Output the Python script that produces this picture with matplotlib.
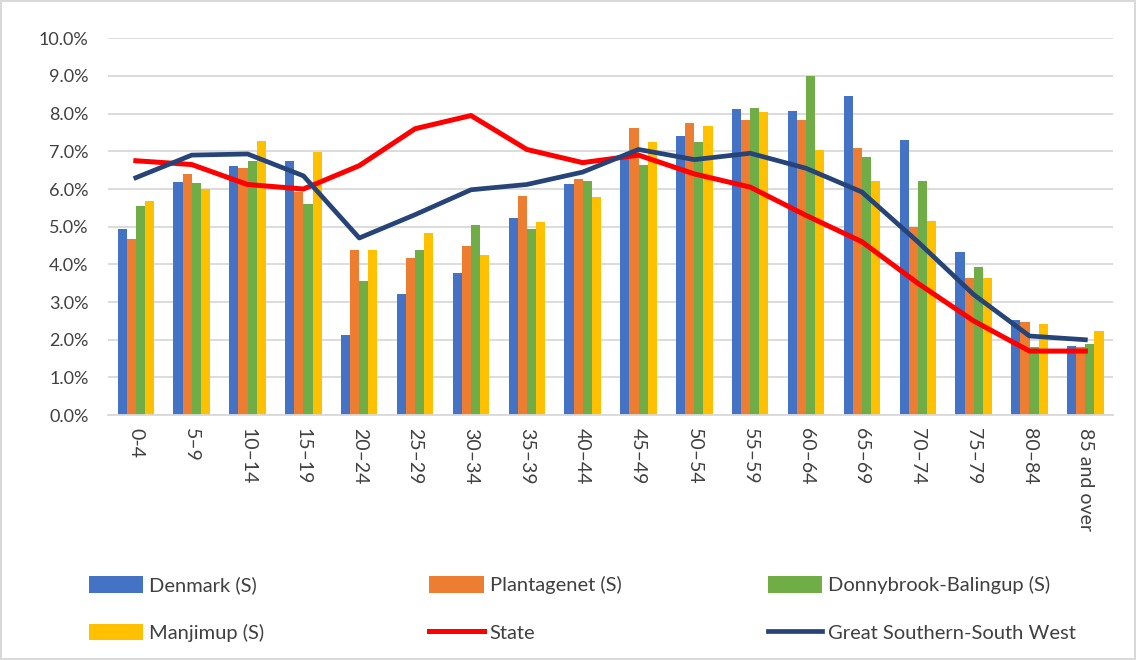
import matplotlib
matplotlib.use("Agg")
import matplotlib.pyplot as plt
import numpy as np
from matplotlib.ticker import PercentFormatter

plt.rcParams['font.family'] = ['Lato', 'DejaVu Sans']

ages = ['0-4', '5–9', '10–14', '15–19', '20–24', '25–29', '30–34', '35–39', '40–44',
        '45–49', '50–54', '55–59', '60–64', '65–69', '70–74', '75–79', '80–84', '85 and over']

denmark = [4.93, 6.18, 6.60, 6.75, 2.12, 3.22, 3.78, 5.22, 6.13,
           6.90, 7.42, 8.13, 8.07, 8.47, 7.30, 4.33, 2.52, 1.84]
plantagenet = [4.68, 6.40, 6.55, 5.92, 4.37, 4.17, 4.50, 5.82, 6.26,
               7.62, 7.74, 7.84, 7.84, 7.10, 5.00, 3.65, 2.47, 1.80]
donnybrook = [5.55, 6.17, 6.75, 5.60, 3.57, 4.38, 5.05, 4.93, 6.20,
              6.63, 7.26, 8.15, 9.00, 6.85, 6.22, 3.93, 1.80, 1.88]
manjimup = [5.68, 6.00, 7.27, 6.97, 4.38, 4.83, 4.25, 5.12, 5.80,
            7.25, 7.67, 8.05, 7.03, 6.20, 5.15, 3.65, 2.42, 2.22]
state = [6.75, 6.65, 6.12, 6.00, 6.62, 7.60, 7.95, 7.05, 6.70,
         6.90, 6.40, 6.05, 5.30, 4.60, 3.50, 2.50, 1.70, 1.70]
gssw = [6.30, 6.90, 6.93, 6.35, 4.70, 5.32, 5.98, 6.12, 6.45,
        7.05, 6.78, 6.95, 6.55, 5.92, 4.60, 3.20, 2.10, 2.00]

bar_series = [('Denmark (S)', denmark, '#4472C4'),
              ('Plantagenet (S)', plantagenet, '#ED7D31'),
              ('Donnybrook-Balingup (S)', donnybrook, '#70AD47'),
              ('Manjimup (S)', manjimup, '#FFC000')]

fig = plt.figure(figsize=(11.36, 6.6), dpi=100)
fig.patch.set_edgecolor('#d9d9d9')
fig.patch.set_linewidth(1.5)
ax = fig.add_axes([0.095, 0.371, 0.885, 0.571])

x = np.arange(len(ages))
w = 0.163
handles = []
for i, (name, vals, col) in enumerate(bar_series):
    b = ax.bar(x + (i - 1.5) * w, vals, w, color=col, label=name, zorder=2)
    handles.append(b)

l1, = ax.plot(x, state, color='#FF0000', lw=3.6, label='State', zorder=3)
l2, = ax.plot(x, gssw, color='#264478', lw=3.4, label='Great Southern-South West', zorder=3)

ax.set_ylim(0, 10)
ax.set_xlim(-0.5, len(ages) - 0.5)
ax.set_yticks(np.arange(0, 10.01, 1))
ax.yaxis.set_major_formatter(PercentFormatter(decimals=1))
ax.grid(axis='y', color='#d9d9d9', lw=1.3, zorder=0)
ax.set_axisbelow(True)
for s in ['top', 'right', 'left']:
    ax.spines[s].set_visible(False)
ax.spines['bottom'].set_color('#d9d9d9')
ax.spines['bottom'].set_linewidth(1.3)
ax.set_xticks(x)
ax.set_xticklabels(ages, rotation=-90, va='top', ha='center')
ax.tick_params(axis='x', length=0, labelsize=14, colors='#404040', pad=9)
ax.tick_params(axis='y', length=0, labelsize=13, colors='#404040', pad=14)

# legend: three columns, placed by hand
columns = [[handles[0], handles[3]], [handles[1], l1], [handles[2], l2]]
col_x = [0.062, 0.362, 0.660]
for hs, cx in zip(columns, col_x):
    leg = fig.legend(hs, [h.get_label() for h in hs], loc='lower left',
                     bbox_to_anchor=(cx, 0.0), frameon=False, fontsize=14.5,
                     handlelength=2.7, handleheight=0.9, handletextpad=0.3,
                     labelspacing=1.45, labelcolor='#404040')

fig.savefig('out.png', dpi=100, edgecolor=fig.get_edgecolor())
